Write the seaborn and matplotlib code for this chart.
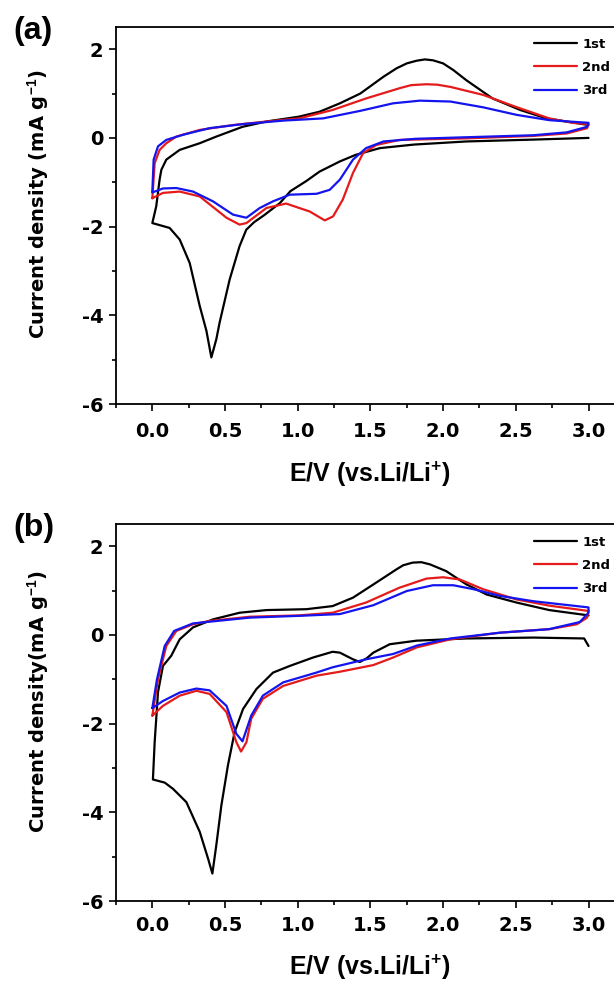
import matplotlib
matplotlib.use("Agg")
import matplotlib.pyplot as plt
import seaborn as sns
import numpy as np
import pandas as pd
from matplotlib.ticker import MultipleLocator

cycles = ["1st", "2nd", "3rd"]
colors = ["black", "#e51a1a", "#1414ee"]

# ---- panel (a) ----
# 1st cycle: cathodic 3.0 -> 0, then anodic 0 -> 3.0
a1_E = [3.00, 2.60, 2.16, 1.80, 1.565, 1.40, 1.29, 1.15, 1.06, 0.95, 0.877, 0.77, 0.70,
        0.646, 0.60, 0.532, 0.463, 0.44, 0.406, 0.372, 0.326, 0.257, 0.188, 0.119, 0.0,
        0.027, 0.05, 0.062, 0.096, 0.188, 0.326, 0.44, 0.62, 0.785, 1.01, 1.15, 1.29,
        1.43, 1.59, 1.68, 1.75, 1.817, 1.874, 1.93, 2.0, 2.07, 2.16, 2.34, 2.53, 2.71, 2.85, 3.0]
a1_I = [0.0, -0.04, -0.08, -0.15, -0.23, -0.38, -0.53, -0.76, -0.97, -1.2, -1.47, -1.74, -1.9,
        -2.07, -2.44, -3.19, -4.16, -4.54, -4.95, -4.35, -3.79, -2.82, -2.29, -2.03, -1.92,
        -1.54, -0.94, -0.72, -0.49, -0.27, -0.12, 0.03, 0.25, 0.37, 0.48, 0.59, 0.78,
        1.0, 1.38, 1.57, 1.68, 1.74, 1.77, 1.75, 1.68, 1.53, 1.30, 0.89, 0.63, 0.44, 0.37, 0.29]
# 2nd cycle: anodic then cathodic
a2_E = [0.0, 0.016, 0.05, 0.096, 0.165, 0.326, 0.555, 0.785, 1.01, 1.24, 1.47, 1.70, 1.78,
        1.886, 1.96, 2.05, 2.275, 2.50, 2.73, 2.89, 3.0,
        2.99, 2.85, 2.62, 2.16, 1.70, 1.54, 1.45, 1.38, 1.31, 1.243, 1.186, 1.083, 0.92,
        0.785, 0.647, 0.60, 0.51, 0.326, 0.188, 0.073, 0.0]
a2_I = [-1.36, -0.57, -0.27, -0.12, 0.03, 0.18, 0.29, 0.37, 0.44, 0.63, 0.89, 1.12, 1.19,
        1.21, 1.20, 1.15, 0.97, 0.70, 0.44, 0.34, 0.31,
        0.22, 0.10, 0.045, -0.01, -0.045, -0.16, -0.34, -0.79, -1.39, -1.77, -1.86, -1.66, -1.48,
        -1.58, -1.92, -1.955, -1.80, -1.32, -1.21, -1.24, -1.36]
# 3rd cycle
a3_E = [0.0, 0.009, 0.039, 0.096, 0.21, 0.394, 0.62, 0.90, 1.174, 1.43, 1.656, 1.84, 2.05,
        2.275, 2.505, 2.73, 3.0,
        2.99, 2.85, 2.62, 2.16, 1.81, 1.59, 1.47, 1.38, 1.29, 1.22, 1.13, 0.945, 0.83, 0.739,
        0.647, 0.555, 0.417, 0.28, 0.165, 0.073, 0.0]
a3_I = [-1.21, -0.49, -0.19, -0.045, 0.07, 0.22, 0.31, 0.39, 0.44, 0.61, 0.78, 0.84, 0.82,
        0.69, 0.52, 0.40, 0.34,
        0.25, 0.125, 0.06, 0.015, -0.02, -0.08, -0.23, -0.49, -0.94, -1.17, -1.26, -1.28, -1.43, -1.58,
        -1.80, -1.73, -1.43, -1.21, -1.13, -1.14, -1.23]

# ---- panel (b) ----
b1_E = [3.0, 2.97, 2.62, 2.16, 1.817, 1.633, 1.52, 1.473, 1.427, 1.38, 1.29, 1.24, 1.105,
        0.945, 0.83, 0.716, 0.624, 0.566, 0.52, 0.475, 0.44, 0.413, 0.383, 0.326, 0.234,
        0.142, 0.085, 0.004,
        0.016, 0.039, 0.073, 0.13, 0.188, 0.28, 0.417, 0.60, 0.785, 1.06, 1.24, 1.38, 1.54,
        1.68, 1.725, 1.79, 1.85, 1.91, 2.02, 2.16, 2.30, 2.505, 2.73, 3.0]
b1_I = [-0.25, -0.08, -0.06, -0.08, -0.13, -0.21, -0.40, -0.53, -0.61, -0.55, -0.40, -0.38, -0.51,
        -0.70, -0.85, -1.22, -1.67, -2.19, -2.94, -3.84, -4.74, -5.38, -5.04, -4.44, -3.77,
        -3.47, -3.33, -3.26,
        -2.42, -1.29, -0.70, -0.47, -0.10, 0.17, 0.35, 0.50, 0.56, 0.58, 0.65, 0.84, 1.18,
        1.48, 1.57, 1.63, 1.64, 1.59, 1.44, 1.14, 0.91, 0.73, 0.56, 0.44]
b2_E = [0.0, 0.039, 0.096, 0.165, 0.28, 0.394, 0.67, 1.01, 1.24, 1.47, 1.70, 1.886, 2.0,
        2.115, 2.275, 2.505, 2.73, 3.0,
        2.99, 2.92, 2.73, 2.39, 2.05, 1.82, 1.656, 1.52, 1.29, 1.128, 0.90, 0.76, 0.68, 0.647,
        0.61, 0.578, 0.51, 0.394, 0.303, 0.188, 0.073, 0.0]
b2_I = [-1.82, -1.0, -0.25, 0.09, 0.24, 0.315, 0.41, 0.44, 0.50, 0.73, 1.065, 1.27, 1.30,
        1.25, 1.03, 0.80, 0.66, 0.54,
        0.39, 0.24, 0.13, 0.05, -0.10, -0.28, -0.51, -0.68, -0.83, -0.92, -1.15, -1.44, -1.89, -2.42,
        -2.63, -2.42, -1.74, -1.33, -1.26, -1.37, -1.60, -1.82]
b3_E = [0.0, 0.032, 0.085, 0.15, 0.28, 0.67, 1.01, 1.29, 1.52, 1.75, 1.93, 2.07, 2.21, 2.39,
        2.62, 3.0,
        3.0, 2.94, 2.73, 2.39, 2.05, 1.82, 1.656, 1.47, 1.24, 1.128, 0.90, 0.76, 0.68, 0.62,
        0.578, 0.51, 0.394, 0.303, 0.188, 0.073, 0.0]
b3_I = [-1.65, -1.0, -0.25, 0.09, 0.26, 0.39, 0.43, 0.47, 0.67, 0.99, 1.12, 1.12, 1.03, 0.88,
        0.76, 0.62,
        0.50, 0.29, 0.13, 0.05, -0.08, -0.24, -0.43, -0.55, -0.73, -0.85, -1.07, -1.37, -1.82, -2.40,
        -2.23, -1.60, -1.25, -1.21, -1.30, -1.49, -1.65]

x_ticks = [0.0, 0.5, 1.0, 1.5, 2.0, 2.5, 3.0]
y_ticks = [-6, -4, -2, 0, 2]


def make_frame(series):
    parts = []
    for name, (E, I) in zip(cycles, series):
        parts.append(pd.DataFrame({"E": E, "I": I, "cycle": name}))
    return pd.concat(parts, ignore_index=True)


sns.set_style("ticks")
plt.rcParams["font.family"] = ["DejaVu Sans"]
plt.rcParams["font.weight"] = "bold"
plt.rcParams["axes.labelweight"] = "bold"
plt.rcParams["text.color"] = "black"
plt.rcParams["axes.labelcolor"] = "black"
# superscripts drawn in an Arial-like bold face
plt.rcParams["mathtext.fontset"] = "custom"
plt.rcParams["mathtext.bf"] = "Liberation Sans:bold"
plt.rcParams["mathtext.rm"] = "Liberation Sans:bold"
plt.rcParams["mathtext.default"] = "bf"

fig = plt.figure(figsize=(6.14, 9.83), dpi=100)
ax_a = fig.add_axes([0.1889, 0.5890, 0.8288, 0.3835])
ax_b = fig.add_axes([0.1889, 0.0834, 0.8288, 0.3835])

panels = [
    (ax_a, [(a1_E, a1_I), (a2_E, a2_I), (a3_E, a3_I)], "Current density (mA g$^{-1}$)", 8, -0.207, 0.972),
    (ax_b, [(b1_E, b1_I), (b2_E, b2_I), (b3_E, b3_I)], "Current density(mA g$^{-1}$)", 6, -0.196, 0.969),
]

for ax, series, ylab, xpad, xlab_y, leg_y in panels:
    df = make_frame(series)
    sns.lineplot(data=df, x="E", y="I", hue="cycle", palette=colors, sort=False,
                 estimator=None, linewidth=1.6, ax=ax)
    ax.set_xlim(-0.25, 3.25)
    ax.set_ylim(-6, 2.5)
    ax.set_xticks(x_ticks)
    ax.set_yticks(y_ticks)
    ax.xaxis.set_minor_locator(MultipleLocator(0.25))
    ax.yaxis.set_minor_locator(MultipleLocator(1))
    ax.set_xticklabels([f"{v:.1f}" for v in x_ticks])
    ax.set_yticklabels([str(v) for v in y_ticks])
    ax.tick_params(which="major", direction="out", length=5, width=1.2, labelsize=14,
                   colors="black", top=False, right=False)
    ax.tick_params(axis="x", which="major", pad=xpad)
    ax.tick_params(axis="y", which="major", pad=4)
    ax.tick_params(which="minor", direction="out", length=3, width=1.2, top=False, right=False,
                   colors="black")
    for sp in ax.spines.values():
        sp.set_linewidth(1.3)
        sp.set_color("black")
    ax.set_xlabel("E/V (vs.Li/Li$^{+}$)", fontsize=18, fontweight="bold",
                  family=["Liberation Sans", "DejaVu Sans"])
    ax.set_ylabel(ylab, fontsize=14, fontweight="bold")
    ax.xaxis.set_label_coords(0.5, xlab_y)
    ax.xaxis.label.set_va("baseline")
    ax.yaxis.set_label_coords(-0.128, 0.53)
    ax.legend(loc="upper left", bbox_to_anchor=(0.821, leg_y), frameon=False,
              fontsize=9.5, handlelength=3.3, handletextpad=0.38, labelspacing=0.78,
              borderpad=0, borderaxespad=0, title=None)

fig.text(0.021, 0.9837, "(a)", fontsize=23, fontweight="bold", va="top", ha="left",
         color="black", family=["Liberation Sans", "DejaVu Sans"])
fig.text(0.021, 0.4781, "(b)", fontsize=23, fontweight="bold", va="top", ha="left",
         color="black", family=["Liberation Sans", "DejaVu Sans"])

fig.savefig("out.png", dpi=100)
